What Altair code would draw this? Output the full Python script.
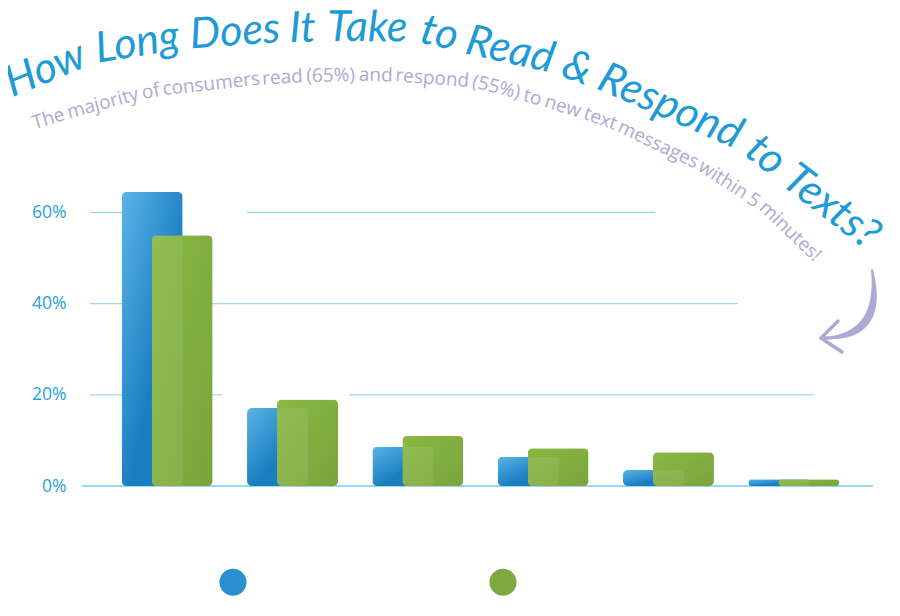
import math
import altair as alt
import pandas as pd

# ---------------- data ----------------
categories = ["Under 5 minutes", "5-15 minutes", "15-30 minutes", "30-60 minutes", "1-24 hours", "Over 24 hours"]
read_pct = [64.5, 17.1, 8.6, 6.4, 3.5, 1.5]
respond_pct = [55.0, 19.0, 11.0, 8.3, 7.4, 1.5]
series_names = ["Read", "Respond"]
y_ticks = [0, 20, 40, 60]

title_text = "How Long Does It Take to Read & Respond to Texts?"
subtitle_text = ("The majority of consumers read (65%) and respond (55%) "
                 "to new text messages within 5 minutes!")

# ---------------- layout / style ----------------
W, H = 797, 319
PAD_L, PAD_T = 74, 159
OX, OY = 8 + PAD_L, 8 + PAD_T  # page position of the plot origin

BLUE_TXT = "#1e9bd7"
SUB_COL = "#abaad4"
GRID_COL = "#86cdec"
BLUE_SOLID = "#2a8fd1"
GREEN_SOLID = "#7fa840"

blue_grad = {"gradient": "linear", "x1": 0, "y1": 0, "x2": 0.55, "y2": 0.6,
             "stops": [{"offset": 0, "color": "#5cb4e6"}, {"offset": 1, "color": "#1a7fc1"}]}
green_grad = {"gradient": "linear", "x1": 0, "y1": 0, "x2": 1, "y2": 1,
              "stops": [{"offset": 0, "color": "#89b843"}, {"offset": 1, "color": "#7aa43d"}]}

# guide curves (page coordinates) for the arched title and subtitle
title_guide = [(14, 97), (100, 63), (200, 48), (300, 42), (410, 42), (470, 55), (550, 73),
               (615, 97), (680, 124), (740, 153), (800, 200), (866, 250)]
sub_guide = [(35, 129), (100, 110), (160, 96), (260, 85), (350, 81), (420, 83), (480, 89),
             (520, 100), (577, 117), (613, 130), (693, 168), (740, 198), (780, 228), (812, 262)]

CW = {' ': 0.26, 'i': 0.26, 'j': 0.26, 'l': 0.26, '!': 0.27, '.': 0.27, 'f': 0.33, 'r': 0.4,
      't': 0.35, '(': 0.3, ')': 0.3, 'I': 0.3, 's': 0.46, 'c': 0.48, 'z': 0.47, 'a': 0.55,
      'e': 0.55, 'k': 0.52, 'v': 0.5, 'x': 0.52, 'y': 0.5, 'g': 0.55, 'b': 0.6, 'd': 0.6,
      'h': 0.6, 'n': 0.6, 'o': 0.6, 'p': 0.6, 'q': 0.6, 'u': 0.6, 'm': 0.92, 'w': 0.78,
      '%': 0.82, '?': 0.45, '&': 0.7, 'T': 0.56, 'L': 0.5, 'R': 0.62, 'H': 0.74, 'D': 0.72}
for d in "0123456789":
    CW[d] = 0.57


def spline(points, n=30):
    P = [points[0]] + list(points) + [points[-1]]
    out = []
    for i in range(1, len(P) - 2):
        p0, p1, p2, p3 = P[i - 1], P[i], P[i + 1], P[i + 2]
        for k in range(n):
            t = k / n
            out.append(tuple(0.5 * (2 * p1[j] + (-p0[j] + p2[j]) * t
                                    + (2 * p0[j] - 5 * p1[j] + 4 * p2[j] - p3[j]) * t * t
                                    + (-p0[j] + 3 * p1[j] - 3 * p2[j] + p3[j]) * t ** 3)
                             for j in (0, 1)))
    out.append(tuple(points[-1]))
    return out


def path_fn(points):
    pts = spline(points)
    cum = [0.0]
    for a, b in zip(pts, pts[1:]):
        cum.append(cum[-1] + math.hypot(b[0] - a[0], b[1] - a[1]))

    def at(s):
        s = max(0.0, min(s, cum[-1]))
        i = 1
        while i < len(cum) - 1 and cum[i] < s:
            i += 1
        a, b = pts[i - 1], pts[i]
        seg = (cum[i] - cum[i - 1]) or 1.0
        f = (s - cum[i - 1]) / seg
        return a[0] + f * (b[0] - a[0]), a[1] + f * (b[1] - a[1])
    return at, cum[-1]


def lay_words(text, points, size, space_em, font_factor=1.0):
    at, L = path_fn(points)
    words = text.split(" ")
    widths = [sum(CW.get(c, 0.56) for c in w) * size * font_factor for w in words]
    sp = space_em * size
    total = sum(widths) + sp * (len(words) - 1)
    k = L / total
    rows, s = [], 0.0
    for w, wd in zip(words, widths):
        c = (s + wd / 2) * k
        x, y = at(c)
        x1, y1 = at(c - wd / 2 * k)
        x2, y2 = at(c + wd / 2 * k)
        ang = math.degrees(math.atan2(y2 - y1, x2 - x1))
        mx, my = (x + (x1 + x2) / 2) / 2, (y + (y1 + y2) / 2) / 2
        rows.append(dict(word=w, x=mx - OX, y=my - OY, angle=ang % 360))
        s += wd + sp
    return pd.DataFrame(rows)


# ---------------- tables ----------------
wide = pd.DataFrame({"category": categories, "read": read_pct, "respond": respond_pct})
long = pd.DataFrame({
    "category": categories * 2,
    "series": [series_names[0]] * len(categories) + [series_names[1]] * len(categories),
    "value": read_pct + respond_pct,
})

grid_segments = pd.DataFrame([
    dict(v=60, x0=90 - OX, x1=122 - OX), dict(v=60, x0=247 - OX, x1=655 - OX),
    dict(v=40, x0=90 - OX, x1=738 - OX),
    dict(v=20, x0=90 - OX, x1=222 - OX), dict(v=20, x0=349 - OX, x1=813 - OX),
])
baseline = pd.DataFrame([dict(v=0, x0=82 - OX, x1=873 - OX)])

# arrow (quadratic curve, tapered)
arrow_rows = []
P0, P1, P2 = (872, 270), (884, 338), (823, 338)
N = 30
for i in range(N + 1):
    t = i / N
    x = (1 - t) ** 2 * P0[0] + 2 * (1 - t) * t * P1[0] + t * t * P2[0]
    y = (1 - t) ** 2 * P0[1] + 2 * (1 - t) * t * P1[1] + t * t * P2[1]
    w = 2 + 5.5 * math.sin(math.pi * min(1.0, t * 1.1)) + 1.5 * t
    arrow_rows.append(dict(i=i, x=x - OX, y=y - OY, w=w))
arrow = pd.DataFrame(arrow_rows)
barbs = pd.DataFrame([
    dict(x=821 - OX, y=338 - OY, x2=838 - OX, y2=321 - OY),
    dict(x=821 - OX, y=338 - OY, x2=842 - OX, y2=352 - OY),
])

title_df = lay_words(title_text, title_guide, 43, 0.26, font_factor=0.85)
sub_df = lay_words(subtitle_text, sub_guide, 19, 0.27)

# ---------------- chart ----------------
yscale = alt.Scale(domain=[0, 70], nice=False)
yaxis = alt.Axis(values=y_ticks, labelExpr="datum.value + '%'", domain=False, ticks=False,
                 grid=False, title=None, labelFont="Open Sans", labelFontSize=17.5,
                 labelColor="#27a1dc", labelPadding=16)
xcat = alt.X("category:N", sort=categories, axis=None,
             scale=alt.Scale(paddingInner=0, paddingOuter=0.18))

grid = alt.Chart(grid_segments).mark_rule(color=GRID_COL, strokeWidth=1).encode(
    x=alt.X("x0:Q", scale=None), x2="x1:Q",
    y=alt.Y("v:Q", scale=yscale, axis=yaxis))

base_line = alt.Chart(baseline).mark_rule(color="#7cc9ec", strokeWidth=1.3).encode(
    x=alt.X("x0:Q", scale=None), x2="x1:Q",
    y=alt.Y("v:Q", scale=yscale, axis=yaxis))

blue = alt.Chart(wide).mark_bar(width=61, xOffset=-15, cornerRadius=5, color=blue_grad).encode(
    x=xcat, y=alt.Y("read:Q", scale=yscale, axis=yaxis))

green = alt.Chart(wide).mark_bar(width=61, xOffset=15, cornerRadius=5, color=green_grad).encode(
    x=xcat, y=alt.Y("respond:Q", scale=yscale, axis=yaxis))

overlap = alt.Chart(wide).transform_calculate(
    both="min(datum.read, datum.respond)"
).mark_bar(width=31, xOffset=0, cornerRadius=4, color="#ffffff", opacity=0.08).encode(
    x=xcat, y=alt.Y("both:Q", scale=yscale, axis=yaxis))

legend_layer = alt.Chart(long).mark_point(filled=True, opacity=0).encode(
    x=xcat,
    y=alt.Y("value:Q", scale=yscale, axis=yaxis),
    color=alt.Color("series:N", scale=alt.Scale(domain=series_names, range=[BLUE_SOLID, GREEN_SOLID]),
                    legend=alt.Legend(orient="none", legendX=137, legendY=401, direction="horizontal",
                                      title=None, symbolType="circle", symbolSize=735,
                                      symbolStrokeWidth=0, symbolOpacity=1, labelExpr="''",
                                      labelOffset=0, columnPadding=242, padding=0)))

title_layer = alt.Chart(title_df).mark_text(
    font="Lato", fontSize=43, fontStyle="italic", color=BLUE_TXT, align="center",
    baseline="alphabetic").encode(
    x=alt.X("x:Q", scale=None), y=alt.Y("y:Q", scale=None), text="word:N",
    angle=alt.Angle("angle:Q", scale=None))

sub_layer = alt.Chart(sub_df).mark_text(
    font="Open Sans", fontSize=19, color=SUB_COL, align="center",
    baseline="alphabetic").encode(
    x=alt.X("x:Q", scale=None), y=alt.Y("y:Q", scale=None), text="word:N",
    angle=alt.Angle("angle:Q", scale=None))

arrow_layer = alt.Chart(arrow).mark_trail(color=SUB_COL).encode(
    x=alt.X("x:Q", scale=None), y=alt.Y("y:Q", scale=None),
    size=alt.Size("w:Q", scale=None, legend=None), order="i:Q")

barb_layer = alt.Chart(barbs).mark_rule(color=SUB_COL, strokeWidth=3.5, strokeCap="round").encode(
    x=alt.X("x:Q", scale=None), y=alt.Y("y:Q", scale=None), x2="x2:Q", y2="y2:Q")

chart = alt.layer(
    grid, base_line, blue, green, overlap, legend_layer,
    sub_layer, title_layer, arrow_layer, barb_layer
).properties(
    width=W, height=H,
    padding={"left": PAD_L, "top": PAD_T, "right": 5, "bottom": 122},
    autosize=alt.AutoSizeParams(type="none"),
    background="white",
).configure_view(stroke=None)

chart.save("out.html", embed_options={"renderer": "svg", "actions": False})
